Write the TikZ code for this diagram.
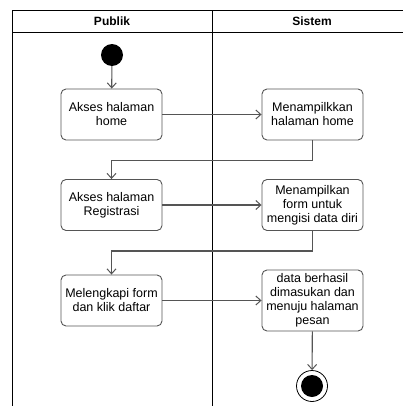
\documentclass[tikz,border=0pt]{standalone}
\usepackage{fontspec}
\setmainfont{Liberation Sans}
\usetikzlibrary{arrows.meta,positioning}
\definecolor{linegray}{HTML}{555555}

\begin{document}
\begin{tikzpicture}[x=1pt,y=-1pt,
  act/.style={rounded corners=5pt,draw=linegray,line width=0.9pt,fill=white,
    minimum width=101pt,minimum height=51pt,align=center,inner sep=1pt,
    font=\fontsize{12.5}{14}\selectfont},
  flow/.style={draw=linegray,line width=1.1pt,-{Straight Barb[length=5pt,width=9pt,line width=1pt]}},
  lane/.style={draw=black,line width=0.8pt}]
\useasboundingbox (0,0) rectangle (403,407);
% swimlanes
\draw[lane] (403,10) -- (12,10) -- (12,406);
\draw[lane] (12,32) -- (403,32);
\draw[lane] (212,10) -- (212,406);
\node (h1) at (112,21) {\fontsize{12}{14}\selectfont\bfseries Publik};
\node (h2) at (312,21) {\fontsize{12}{14}\selectfont\bfseries Sistem};
%
\node (s0) [circle,fill=black,minimum size=22pt,inner sep=0pt] at (112,55) {};
\node (s1) [act] at (111.5,114.5) {Akses halaman\\home};
\node (s2) [act] at (312.5,114.5) {Menampilkkan\\halaman home};
\node (s3) [act] at (111.5,205) {Akses halaman\\Registrasi};
\node (s4) [act] at (312.5,205) {Menampilkan\\form untuk\\mengisi data diri};
\node (s5) [act] at (111.5,300.5) {Melengkapi form\\dan klik daftar};
\node (s6) [act,minimum height=61pt] at (312.5,300.5) {data berhasil\\dimasukan dan\\menuju halaman\\pesan};
\node (s7) [circle,draw=black,line width=0.8pt,fill=white,minimum size=31pt,inner sep=0pt] at (312,386) {};
\node (s7in) [circle,fill=black,minimum size=22pt,inner sep=0pt] at (s7) {};
%
\path[flow] (s0) edge (s1);
\path[flow] (s1) edge (s2);
\draw[flow] (s2.south) -- ++(0,20) -| (s3.north);
\path[flow] (s3) edge (s4);
\draw[flow] (s4.south) -- ++(0,20) -| (s5.north);
\path[flow] (s5) edge (s6);
\path[flow] (s6) edge (s7);
\end{tikzpicture}
\end{document}
